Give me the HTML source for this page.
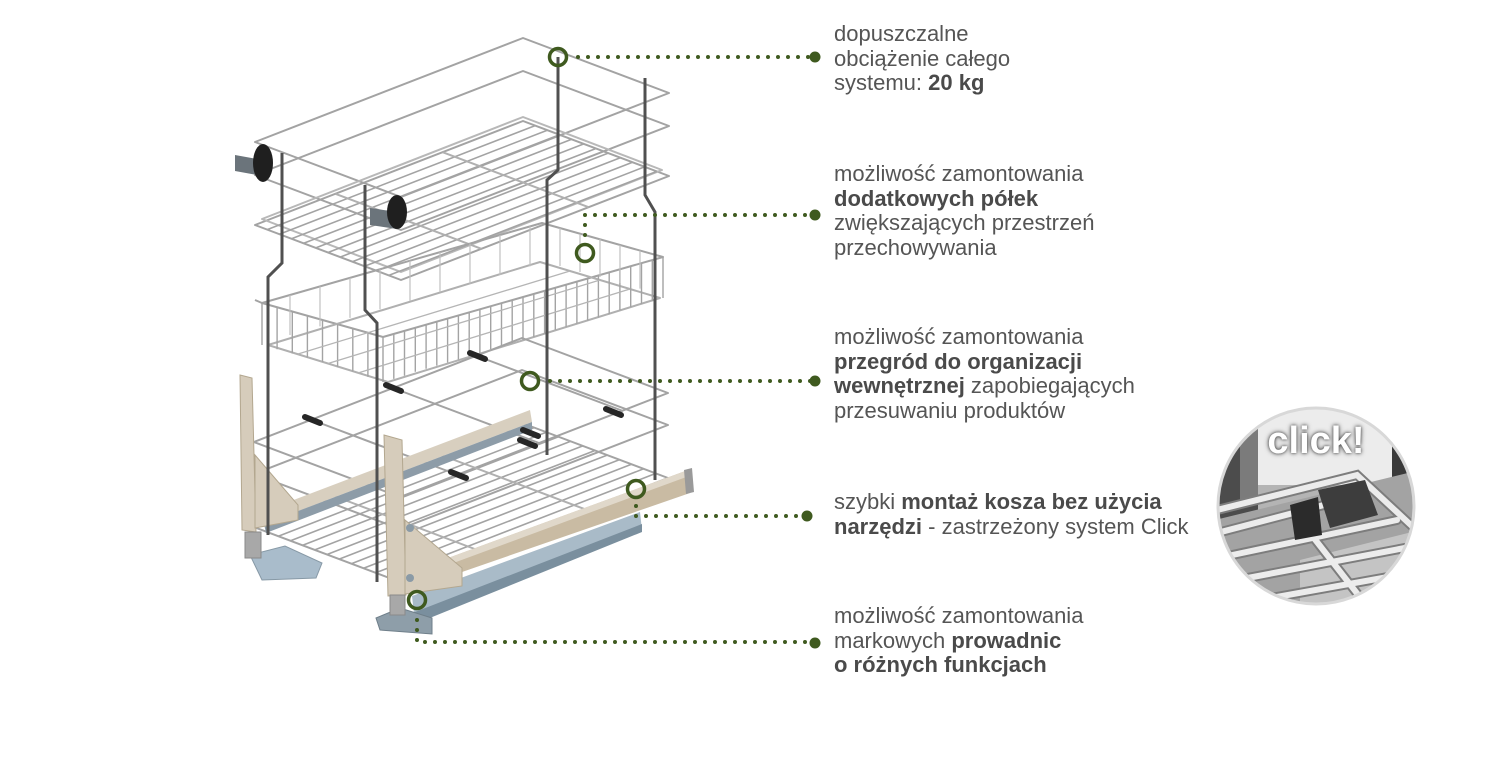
<!DOCTYPE html>
<html><head><meta charset="utf-8">
<style>
html,body{margin:0;padding:0;background:#fff;}
body{width:1491px;height:778px;position:relative;overflow:hidden;font-family:"Liberation Sans",sans-serif;}
svg{position:absolute;left:0;top:0;}
.t{position:absolute;left:834px;font-size:22px;line-height:24.6px;color:#555;white-space:nowrap;}
.t b{color:#4a4a4a;font-weight:bold;}
.click{position:absolute;left:1266px;top:420px;width:100px;text-align:center;font-size:38px;font-weight:bold;color:#fff;text-shadow:0 0 3px rgba(0,0,0,.7),0 0 6px rgba(0,0,0,.4);}
</style></head><body>
<svg width="1491" height="778" viewBox="0 0 1491 778">
<defs><clipPath id="cc"><circle cx="1316" cy="506" r="98"/></clipPath></defs>
<!-- ===== BASKET DRAWING ===== -->
<g fill="none" stroke="#a3a3a3" stroke-width="2" stroke-linejoin="round">
<!-- top frame rails -->
<polygon points="255,142 523,38 669,93 401,197"/>
<polygon points="255,175 523,71 669,126 401,230"/>
<!-- shelf -->
<polygon points="255,225 523,121 669,176 401,280"/>
<polygon points="262,219 523,117 662,170 401,272" stroke="#b8b8b8"/>
<path stroke-width="1.6" d="M267.2 229.6L535.2 125.6M279.3 234.2L547.3 130.2M291.5 238.8L559.5 134.8M303.7 243.3L571.7 139.3M315.8 247.9L583.8 143.9M328 252.5L596 148.5M340.2 257.1L608.2 153.1M352.3 261.7L620.3 157.7M364.5 266.3L632.5 162.3M376.7 270.8L644.7 166.8M388.8 275.4L656.8 171.4"/>
<path d="M335.4 193.8L481.4 248.8M442.6 152.2L588.6 207.2" stroke="#b0b0b0"/>
<!-- middle basket -->
<polygon points="262,303 542,223 663,257 383,337"/>
<polygon points="268,345 540,262 660,298 388,382" stroke="#b0b0b0"/>
<path stroke-width="1.4" d="M383 337v45M393.8 333.9v45M404.5 330.8v45M415.3 327.8v44M426.1 324.7v44M436.8 321.6v44M447.6 318.5v44M458.4 315.5v44M469.2 312.4v44M479.9 309.3v44M490.7 306.2v43M501.5 303.2v43M512.2 300.1v43M523 297v43M533.8 293.9v43M544.6 290.9v43M555.3 287.8v42M566.1 284.7v42M576.9 281.6v42M587.6 278.6v42M598.4 275.5v42M609.2 272.4v42M619.9 269.3v41M630.7 266.3v41M641.5 263.2v41M652.3 260.1v41M663 257v41"/>
<path stroke-width="1.4" d="M262 303v42M277.1 307.3v42M292.3 311.5v42M307.4 315.8v42M322.5 320v42M337.6 324.3v43M352.8 328.5v43M367.9 332.8v44"/>
<path stroke-width="1.2" stroke="#c0c0c0" d="M290 295v40M320 286.4v40M350 277.9v40M380 269.3v40M410 260.7v40M440 252.1v40M470 243.6v40M500 235v40M530 226.4v40M560 228v38M580 234v38M600 239v38M620 245v38M640 250.6v38"/>
<path stroke-width="1.3" stroke="#b5b5b5" d="M298 354L570 271M328 363.5L600 280M358 373L630 289"/>
<path d="M255 300L262 303" stroke="#a3a3a3"/>
<!-- lower divider frame -->
<polygon points="254,442 522,338 668,393 400,497"/>
<polygon points="254,474 522,370 668,425 400,529"/>
<path d="M312 420L458 475M393 388L539 443M477 356L623 411"/>
<!-- bottom shelf -->
<polygon points="254,527 522,423 668,478 400,582"/>
<path stroke-width="1.6" d="M266.2 531.6L534.2 427.6M278.3 536.2L546.3 432.2M290.5 540.8L558.5 436.8M302.7 545.3L570.7 441.3M314.8 549.9L582.8 445.9M327 554.5L595 450.5M339.2 559.1L607.2 455.1M351.3 563.7L619.3 459.7M363.5 568.3L631.5 464.3M375.7 572.8L643.7 468.8M387.8 577.4L655.8 473.4"/>
<path d="M334 496L480 551M441 455L587 510" stroke="#b0b0b0"/>
</g>
<!-- left back beige runner -->
<polygon points="262,512 530,410 532,422 264,524" fill="#d8cfbf"/>
<polygon points="264,524 532,422 532,430 266,533" fill="#8d9ca8"/>
<!-- divider clips -->
<g stroke="#262626" stroke-width="6" stroke-linecap="round">
<path d="M305 417L320 423M386 385L401 391M470 353L485 359M451 472L466 478M606 409L621 415M523 430L538 436M520 440L535 446"/>
</g>
<!-- brackets -->
<g fill="#d6ccbb" stroke="#b3a78f" stroke-width="1">
<polygon points="240,375 252,378 256,532 242,530"/>
<polygon points="255,455 298,505 298,520 255,528"/>
</g>
<!-- left slide plate & foot -->
<polygon points="250,555 285,546 322,563 316,578 262,580" fill="#a9bccb" stroke="#8799a6"/>
<rect x="245" y="532" width="16" height="26" fill="#a8a8a8" stroke="#8a8a8a"/>
<!-- right side beige bar & slide -->
<polygon points="410,572 688,470 690,493 410,590" fill="#c9bba3"/>
<polygon points="410,572 688,470 689,476 410,579" fill="#e0d8ca"/>
<polygon points="684,470 692,468 694,492 686,494" fill="#9a9a9a"/>
<polygon points="412,596 640,512 642,530 415,622" fill="#a9bbc8"/>
<polygon points="415,612 642,524 642,532 415,624" fill="#7a8f9e"/>
<polygon points="376,618 400,608 432,618 432,634 380,630" fill="#8e9ea9" stroke="#6f7f8a"/>
<g fill="#d6ccbb" stroke="#b3a78f" stroke-width="1">
<polygon points="384,435 402,440 406,595 388,596"/>
<polygon points="405,520 462,568 462,586 405,594"/>
</g>
<circle cx="410" cy="528" r="4" fill="#8a9aa6"/><circle cx="410" cy="578" r="4" fill="#8a9aa6"/>
<rect x="390" y="595" width="15" height="20" fill="#a8a8a8" stroke="#8a8a8a"/>
<!-- posts -->
<g fill="none" stroke="#505050" stroke-width="3">
<polyline points="282,153 282,263 268,277 268,535"/>
<polyline points="365,185 365,310 377,323 377,582"/>
<polyline points="558,57 558,170 547,180 547,455"/>
<polyline points="645,78 645,195 655,212 655,480"/>
</g>
<!-- top clips -->
<polygon points="235,155 263,160 263,176 235,171" fill="#6b747b"/>
<ellipse cx="263" cy="163" rx="10" ry="19" fill="#1f1f1f"/>
<polygon points="370,208 397,212 397,229 370,225" fill="#6b747b"/>
<ellipse cx="397" cy="212" rx="10" ry="17" fill="#1f1f1f"/>
<!-- ===== CONNECTORS ===== -->
<g stroke="#3f5a1f" fill="none" stroke-linecap="round">
<path stroke-width="4" stroke-dasharray="0 10" d="M578 57H812M585 215H812M585 225V242M550 381H812M636 506V516H806M417 620V642H812"/>
<circle cx="558" cy="57" r="8.5" stroke-width="3.5" fill="none"/>
<circle cx="585" cy="253" r="8.5" stroke-width="3.5"/>
<circle cx="530" cy="381" r="8.5" stroke-width="3.5"/>
<circle cx="636" cy="489" r="8.5" stroke-width="3.5"/>
<circle cx="417" cy="600" r="8.5" stroke-width="3.5"/>
</g>
<g fill="#3f5a1f">
<circle cx="815" cy="57" r="5.5"/><circle cx="815" cy="215" r="5.5"/><circle cx="815" cy="381" r="5.5"/><circle cx="807" cy="516" r="5.5"/><circle cx="815" cy="643" r="5.5"/>
</g>
<!-- ===== INSET ===== -->
<g clip-path="url(#cc)">
<rect x="1210" y="400" width="220" height="220" fill="#b4b4b4"/>
<rect x="1258" y="405" width="140" height="80" fill="#ececec"/>
<polygon points="1215,405 1258,405 1258,545 1215,545" fill="#4c4c4c"/>
<polygon points="1240,405 1258,405 1258,500 1240,505" fill="#7b7b7b"/>
<rect x="1392" y="440" width="26" height="80" fill="#3a3a3a"/>
<polygon points="1215,520 1420,470 1420,620 1215,620" fill="#a3a3a3"/>
<polygon points="1300,560 1420,530 1420,620 1300,620" fill="#c4c4c4"/>
<g fill="none" stroke-linecap="round">
<g stroke="#7d7d7d" stroke-width="10">
<polyline points="1217,510 1357,475 1413,527"/>
<path d="M1217,533 L1343,500 M1223,557 L1397,520 M1237,580 L1410,547 M1260,600 L1410,573 M1310,533 L1370,610"/>
</g>
<g stroke="#ececec" stroke-width="6">
<polyline points="1217,510 1357,475 1413,527"/>
<path d="M1217,533 L1343,500 M1223,557 L1397,520 M1237,580 L1410,547 M1260,600 L1410,573 M1310,533 L1370,610"/>
</g>
</g>
<polygon points="1318,490 1365,480 1378,515 1330,528" fill="#3d3d3d"/>
<polygon points="1290,505 1318,497 1322,535 1295,540" fill="#2b2b2b"/>
</g>
<circle cx="1316" cy="506" r="98" fill="none" stroke="#d8d8d8" stroke-width="3"/>
</svg>
<div class="click">click!</div>

<div class="t" style="top:22px">dopuszczalne<br>obciążenie całego<br>systemu: <b>20 kg</b></div>
<div class="t" style="top:162px">możliwość zamontowania<br><b>dodatkowych półek</b><br>zwiększających przestrzeń<br>przechowywania</div>
<div class="t" style="top:325px">możliwość zamontowania<br><b>przegród do organizacji</b><br><b>wewnętrznej</b> zapobiegających<br>przesuwaniu produktów</div>
<div class="t" style="top:490px">szybki <b>montaż kosza bez użycia</b><br><b>narzędzi</b> - zastrzeżony system Click</div>
<div class="t" style="top:604px">możliwość zamontowania<br>markowych <b>prowadnic</b><br><b>o różnych funkcjach</b></div>
</body></html>
